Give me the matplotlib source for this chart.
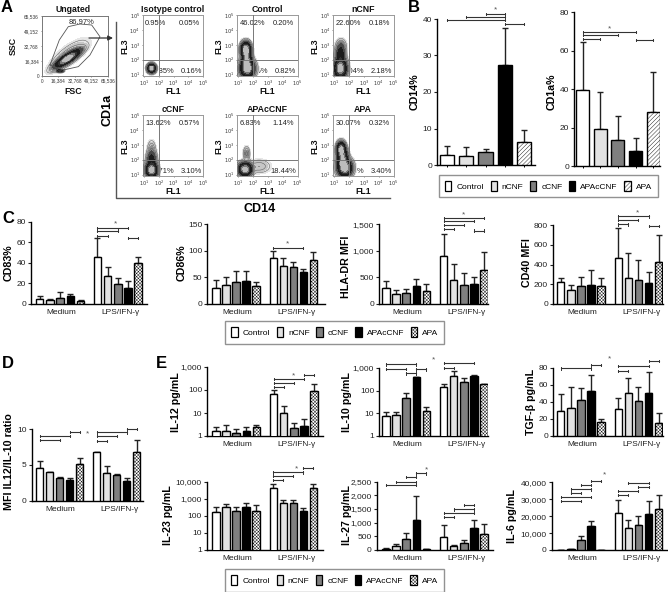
import matplotlib as mpl
mpl.use('Agg')
import matplotlib.pyplot as plt
import numpy as np
from matplotlib.patches import Patch
from matplotlib.ticker import FuncFormatter

W, H = 668, 592
plt.rcParams['font.family'] = ['Liberation Sans', 'DejaVu Sans']
plt.rcParams['hatch.linewidth'] = 0.3

groups = ["Control", "nCNF", "cCNF", "APAcCNF", "APA"]
conditions = ["Medium", "LPS/IFN-γ"]

# panel B, means and top of the error bar
cd14_mean = [2.7, 2.5, 3.5, 27.5, 6.4]
cd14_top = [5.2, 4.9, 4.5, 37.4, 9.6]
cd1a_mean = [39.5, 19, 13.5, 7.8, 28]
cd1a_top = [64.5, 38.3, 26, 14.5, 49]

# panels C, D, E: five Medium bars then five LPS/IFN-y bars
cd83_mean = [4.5, 3.5, 6, 7.5, 2.8, 46, 27, 19.5, 16, 40]
cd83_top = [7.5, 4.5, 12, 10, 3.5, 64, 36, 25.5, 22, 46]
cd86_mean = [30, 35, 42, 44, 33, 87, 71, 70, 60, 82]
cd86_top = [45, 50, 62, 63, 41, 99, 87, 79, 65, 97]
hla_mean = [310, 190, 205, 330, 240, 900, 450, 365, 370, 640]
hla_top = [430, 260, 290, 470, 380, 1320, 760, 590, 500, 970]
cd40_mean = [220, 140, 180, 190, 185, 470, 260, 245, 215, 425]
cd40_top = [265, 195, 270, 345, 260, 765, 520, 445, 325, 700]
ratio_mean = [4.6, 3.95, 3.2, 2.85, 5.1, 6.8, 3.9, 3.6, 2.8, 6.8]
ratio_top = [5.6, 4.0, 3.3, 3.2, 6.0, 6.85, 4.8, 3.7, 3.2, 8.4]
il12_mean = [1.6, 1.7, 1.4, 1.7, 2.4, 70, 10, 2.2, 2.7, 95]
il12_top = [2.4, 3, 2.1, 2.4, 3, 105, 20, 3.6, 5.5, 175]
il10_mean = [7.5, 8, 45, 380, 13, 145, 430, 250, 450, 190]
il10_top = [11.5, 11.5, 75, 420, 18, 190, 700, 360, 480, 205]
tgf_mean = [29, 33, 42, 53, 16.5, 31, 51, 41, 50, 15]
tgf_top = [49, 58, 56, 72, 19.5, 44, 68, 58, 75, 27]
il23_mean = [160, 320, 180, 320, 200, 4200, 550, 570, 180, 4500]
il23_top = [340, 480, 320, 550, 450, 7500, 800, 850, 300, 7500]
il27_mean = [50, 150, 420, 1080, 20, 490, 140, 270, 810, 600]
il27_top = [90, 230, 620, 1980, 30, 900, 170, 370, 1110, 960]
il6_mean = [100, 400, 6000, 14000, 100, 22000, 13000, 14500, 21000, 24000]
il6_top = [150, 500, 8000, 17000, 150, 29500, 17500, 20000, 29000, 32500]

# panel A quadrant percentages: UL, UR, LL, LR
flow_names = ["Isotype control", "Control", "nCNF", "cCNF", "APAcCNF", "APA"]
flow_pcts = [["0.95%", "0.05%", "98.85%", "0.16%"],
             ["46.02%", "0.20%", "52.96%", "0.82%"],
             ["22.60%", "0.18%", "75.04%", "2.18%"],
             ["13.62%", "0.57%", "82.71%", "3.10%"],
             ["6.83%", "1.14%", "73.59%", "18.44%"],
             ["30.07%", "0.32%", "66.21%", "3.40%"]]
# cell populations, log10 units: x, y, sd x, sd y, height
flow_blobs = [[(1.5, 1.42, .14, .15, 1)],
              [(1.5, 2.7, .17, .25, 1), (1.6, 1.4, .25, .3, 1), (1.55, 2.05, .17, .35, .8)],
              [(1.4, 1.4, .22, .33, 1), (1.4, 2.3, .17, .35, .35), (1.45, 2.9, .18, .26, .08)],
              [(1.5, 1.3, .2, .25, 1), (1.5, 2.0, .17, .33, .3), (1.5, 2.8, .15, .28, .05)],
              [(1.45, 1.35, .23, .23, 1), (2.4, 1.55, .42, .25, .05), (1.55, 2.4, .12, .25, .08)],
              [(1.45, 2.7, .15, .25, .9), (1.7, 1.45, .25, .3, 1), (1.55, 2.05, .18, .35, .8)]]

ungated_fsc = [8200, 17400, 26300, 37900, 49400, 57600, 47700, 36200, 21400, 8200]
ungated_ssc = [12000, 39300, 53900, 56800, 55700, 42900, 22900, 10200, 6550, 12000]
# x, y, sd x, sd y, correlation, height
ungated_blobs = [(25500, 19000, 6500, 5000, .85, 1), (18200, 5800, 1700, 900, 0, .5),
                 (27000, 23000, 10000, 9000, .75, .06)]

# bar index from, bar index to, pixel row
cd14_br = [(0, 3, 20), (1, 3, 16.7), (2, 3, 14), (3, 4, 24)]
cd1a_br = [(0, 1, 38.7), (0, 2, 34.7), (0, 3, 31.7), (3, 4, 39.7)]
cd83_br = [(5, 6, 235.7), (5, 7, 230.7), (5, 8, 227.7), (8, 9, 238)]
cd86_br = [(5, 8, 247.7)]
hla_br = [(5, 6, 229), (5, 7, 225), (5, 8, 221), (5, 9, 218.3), (8, 9, 230.7)]
cd40_br = [(5, 6, 224.3), (5, 7, 220), (5, 8, 216.3), (8, 9, 226)]
ratio_br = [(0, 2, 440), (0, 3, 435.7), (3, 4, 431.7), (5, 6, 441), (5, 7, 436), (5, 8, 432.3), (8, 9, 429)]
il12_br = [(5, 6, 387), (5, 7, 383), (5, 8, 379), (8, 9, 375)]
il10_br = [(0, 2, 369), (0, 3, 364.3), (2, 3, 373.3), (3, 4, 369.3), (5, 6, 368), (5, 8, 363)]
tgf_br = [(0, 3, 368.3), (3, 4, 364.7), (5, 6, 370.7), (5, 8, 366), (8, 9, 360.7)]
il23_br = [(5, 6, 480), (5, 7, 475.7), (5, 8, 472.3), (8, 9, 467.7)]
il27_br = [(0, 3, 485), (1, 3, 481.7), (2, 3, 477), (3, 4, 473.3), (5, 6, 516.7), (5, 8, 512.7), (6, 8, 509.3), (7, 8, 505)]
il6_br = [(0, 2, 500.7), (0, 3, 496.7), (1, 2, 492.7), (1, 3, 489.3), (2, 3, 485), (3, 4, 481),
          (5, 6, 494.7), (5, 7, 490.7), (7, 8, 487), (6, 8, 483)]

bar_colors = ['white', '#e2e2e2', '#7f7f7f', 'black', 'white']
dense_hatch = 'x' * 10
slant_hatch = '/' * 8

fig = plt.figure(figsize=(W / 100, H / 100), dpi=100)


def fx(x):
    return x / W


def fy(y):
    return 1 - y / H


def put_axes(x0, x1, top, bottom):
    return fig.add_axes([fx(x0), fy(bottom), (x1 - x0) / W, (bottom - top) / H])


def bar_chart(x0, x1, top, bottom, first, step, shift, means, tops, ticks, ylabel, ylab_x, ylab_y,
              brackets, star, log=False, hatch=dense_hatch, bar_ticks=False):
    ax = put_axes(x0, x1, top, bottom)
    n = len(means)
    pos = np.arange(n, dtype=float)
    if n == 10:
        pos[5:] += shift
    colors = bar_colors * (n // 5)
    if log:
        ax.set_yscale('log')
    means = np.array(means, dtype=float)
    tops = np.array(tops, dtype=float)
    bars = ax.bar(pos, means, width=0.74, color=colors, edgecolor='black', linewidth=1.0, zorder=3)
    for i in range(4, n, 5):
        bars[i].set_hatch(hatch)
    ax.errorbar(pos, means, yerr=[np.zeros(n), tops - means], fmt='none', ecolor='#222222',
                elinewidth=1.0, capsize=2.2, capthick=1.0, zorder=2)
    ax.set_xlim(-(first - x0) / step, (x1 - first) / step)
    ax.set_ylim(ticks[0], ticks[-1])
    ax.set_yticks(ticks)
    ax.minorticks_off()
    ax.yaxis.set_major_formatter(FuncFormatter(lambda v, p: f'{v:,.0f}'))
    ax.tick_params(axis='y', labelsize=6, length=2, width=0.8, pad=1.5, colors='#222222')
    if bar_ticks:
        ax.set_xticks(pos)
        ax.set_xticklabels([])
        ax.tick_params(axis='x', length=1.5, width=0.7)
    else:
        ax.set_xticks([])
    for s in ['top', 'right']:
        ax.spines[s].set_visible(False)
    for s in ['left', 'bottom']:
        ax.spines[s].set_linewidth(1.0)
    if n == 10:
        for k, cond in enumerate(conditions):
            center = first + step * (2 + k * (5 + shift))
            fig.text(fx(center + 1 + 2 * k), fy(bottom + 9), cond, fontsize=6, ha='center', va='center', color='#222222')
    fig.text(fx(ylab_x), fy(ylab_y), ylabel, fontsize=7.7, fontweight='bold', rotation=90, ha='center', va='center')
    for a, b, row in brackets:
        xa, xb = first + step * pos[a], first + step * pos[b]
        fig.add_artist(plt.Line2D([fx(xa), fx(xb)], [fy(row), fy(row)], color='#333333', lw=0.8))
        for xe in (xa, xb):
            fig.add_artist(plt.Line2D([fx(xe), fx(xe)], [fy(row - 1.2), fy(row + 1.2)], color='#333333', lw=0.7))
    fig.text(fx(star[0]), fy(star[1] + 1), '*', fontsize=6, ha='center', va='center', color='#555555')
    return ax


def legend_box(x0, x1, top, bottom, hatch):
    handles = []
    for name, col in zip(groups, bar_colors):
        handles.append(Patch(facecolor=col, edgecolor='black', linewidth=0.9,
                             hatch=hatch if name == 'APA' else None, label=name))
    leg = fig.legend(handles=handles, loc='center', bbox_to_anchor=(fx((x0 + x1) / 2), fy((top + bottom) / 2)),
                     ncol=5, fontsize=6, frameon=True, fancybox=False, edgecolor='#777777',
                     handlelength=0.75, handleheight=1.5, handletextpad=0.6, columnspacing=0.8,
                     borderpad=0.75, borderaxespad=0)
    leg.get_frame().set_linewidth(1.0)


def draw_density(ax, xs, ys, dens):
    ax.contourf(xs, ys, dens, levels=[.006, .02, .05, .1, .2, .4, .6, .8, 3],
                colors=['#e6e6e6', '#c6c6c6', '#8c8c8c', '#484848', '#1c1c1c', '#333333', '#7a7a7a', '#bcbcbc'],
                zorder=2)
    ax.contour(xs, ys, dens, levels=[.012, .03, .07], colors='#555555', linewidths=0.35, zorder=3)


def flow_panel(x0, top, name, pcts, blobs):
    ax = put_axes(x0, x0 + 60.5, top, top + 61)
    xs = np.linspace(.9, 5, 240)
    ys = np.linspace(.9, 5, 240)
    X, Y = np.meshgrid(xs, ys)
    dens = np.zeros_like(X)
    for cx, cy, sx, sy, amp in blobs:
        dens += amp * np.exp(-.5 * (((X - cx) / sx) ** 2 + ((Y - cy) / sy) ** 2))
    for s, (tx, ty, ha) in zip(pcts, [(.04, .86, 'left'), (.94, .86, 'right'), (.1, .07, 'left'), (.98, .07, 'right')]):
        ax.text(tx, ty, s, transform=ax.transAxes, fontsize=5.4, ha=ha, va='center', color='#222222', zorder=1)
    draw_density(ax, xs, ys, dens)
    ax.axvline(2.0, color='#777777', lw=0.7, zorder=4)
    ax.axhline(1.97, color='#777777', lw=0.7, zorder=4)
    ax.set_xlim(.9, 5)
    ax.set_ylim(.9, 5)
    ticks = [1, 2, 3, 4, 5]
    labels = [f'$10^{t}$' for t in ticks]
    ax.set_xticks(ticks, labels)
    ax.set_yticks(ticks, labels)
    ax.tick_params(labelsize=3.6, length=1, width=0.4, pad=1, colors='#333333')
    for s in ax.spines.values():
        s.set_color('#999999')
        s.set_linewidth(0.7)
    fig.text(fx(x0 + 30), fy(top - 6), name, fontsize=6.3, fontweight='bold', ha='center', va='center', color='#111111')
    fig.text(fx(x0 + 30), fy(top + 77), 'FL1', fontsize=6.3, fontweight='bold', ha='center', va='center', color='#111111')
    fig.text(fx(x0 - 18), fy(top + 31), 'FL3', fontsize=6.3, fontweight='bold', rotation=90, ha='center', va='center', color='#111111')


# panel A
ax = put_axes(41.7, 108, 16, 76)
gx = np.linspace(0, 65536, 300)
gy = np.linspace(0, 65536, 300)
GX, GY = np.meshgrid(gx, gy)
gd = np.zeros_like(GX)
for cx, cy, sx, sy, rho, amp in ungated_blobs:
    u, v = (GX - cx) / sx, (GY - cy) / sy
    gd += amp * np.exp(-.5 * (u ** 2 - 2 * rho * u * v + v ** 2) / (1 - rho ** 2))
draw_density(ax, gx, gy, gd)
ax.plot(ungated_fsc, ungated_ssc, color='#555555', lw=0.6, zorder=4)
ax.text(.6, .895, '86.97%', transform=ax.transAxes, fontsize=5.4, ha='center', va='center', color='#222222')
ax.set_xlim(0, 65536)
ax.set_ylim(0, 65536)
flow_ticks = [0, 16384, 32768, 49152, 65536]
ax.set_xticks(flow_ticks, [f'{t:,}' for t in flow_ticks])
ax.set_yticks(flow_ticks, [f'{t:,}' for t in flow_ticks])
ax.tick_params(labelsize=3.4, length=1, width=0.4, pad=1, colors='#333333')
for s in ax.spines.values():
    s.set_color('#777777')
    s.set_linewidth(0.7)
fig.text(fx(73), fy(9), 'Ungated', fontsize=6.3, fontweight='bold', ha='center', va='center', color='#111111')
fig.text(fx(73), fy(92), 'FSC', fontsize=6.3, fontweight='bold', ha='center', va='center', color='#111111')
fig.text(fx(13), fy(46), 'SSC', fontsize=6.3, fontweight='bold', rotation=90, ha='center', va='center', color='#111111')

fig.add_artist(mpl.patches.FancyArrowPatch((fx(89), fy(38)), (fx(113), fy(38)), transform=fig.transFigure,
                                           arrowstyle='-|>', mutation_scale=7, color='#333333', lw=0.9, shrinkA=0, shrinkB=0))

cols = [142.7, 237, 333]
rows = [15, 115]
for i in range(6):
    flow_panel(cols[i % 3], rows[i // 3], flow_names[i], flow_pcts[i], flow_blobs[i])

fig.add_artist(plt.Line2D([fx(115.7), fx(115.7), fx(390)], [fy(22), fy(198), fy(198)], color='#555555', lw=1.0))
fig.text(fx(107), fy(110), 'CD1a', fontsize=9, fontweight='bold', rotation=90, ha='center', va='center')
fig.text(fx(260), fy(208.5), 'CD14', fontsize=9, fontweight='bold', ha='center', va='center')

# panel B
bar_chart(437, 535, 19, 165, 446.7, 19.4, 0, cd14_mean, cd14_top, [0, 10, 20, 30, 40], 'CD14%', 415, 92,
          cd14_br, (495.7, 9), hatch=slant_hatch, bar_ticks=True)
bar_chart(574, 660, 12, 166, 582.7, 17.6, 0, cd1a_mean, cd1a_top, [0, 20, 40, 60, 80], 'CD1a%', 552, 92,
          cd1a_br, (609, 27.7), hatch=slant_hatch, bar_ticks=True)
legend_box(440, 657, 175, 197, slant_hatch)

# panel C
bar_chart(31, 147, 221.7, 304, 39.7, 10.2, .65, cd83_mean, cd83_top, [0, 20, 40, 60, 80], 'CD83%', 9, 263,
          cd83_br, (115, 223))
bar_chart(207, 325, 224.3, 304, 216, 10.0, .73, cd86_mean, cd86_top, [0, 50, 100, 150], 'CD86%', 182, 263,
          cd86_br, (287, 243))
bar_chart(379, 488, 224.3, 304, 386, 10.1, .7, hla_mean, hla_top, [0, 500, 1000, 1500], 'HLA-DR MFI', 346, 267,
          hla_br, (463, 214))
bar_chart(553, 663, 225, 304, 560.7, 10.1, .7, cd40_mean, cd40_top, [0, 200, 400, 600, 800], 'CD40 MFI', 527, 263,
          cd40_br, (638, 211.7))
legend_box(225.7, 444, 321.7, 343, dense_hatch)

# panel D
bar_chart(31.7, 143, 429, 500.7, 39.7, 10, .7, ratio_mean, ratio_top, [0, 5, 10], 'MFI IL12/IL-10 ratio', 9, 462,
          ratio_br, (87.7, 432.7))

# panel E
bar_chart(207, 322.7, 367, 436, 216, 10.1, .7, il12_mean, il12_top, [1, 10, 100, 1000], 'IL-12 pg/mL', 176, 402,
          il12_br, (293.3, 375), log=True)
bar_chart(379, 488, 368, 435.7, 386, 10.1, .7, il10_mean, il10_top, [1, 10, 100, 1000], 'IL-10 pg/mL', 347, 402,
          il10_br, (434, 359), log=True)
bar_chart(553, 663, 368, 435.7, 560.7, 10.1, .7, tgf_mean, tgf_top, [0, 20, 40, 60, 80], 'TGF-β pg/mL', 531, 402,
          tgf_br, (609, 357.7))
bar_chart(206.7, 323, 481.7, 550, 216, 10.0, .73, il23_mean, il23_top, [1, 10, 100, 1000, 10000], 'IL-23 pg/mL', 168, 515,
          il23_br, (296.7, 468.3), log=True)
bar_chart(376.7, 493, 481.7, 550, 386, 10.1, .7, il27_mean, il27_top, [0, 500, 1000, 1500, 2000, 2500], 'IL-27 pg/mL', 347, 515,
          il27_br, (426.7, 469))
bar_chart(551.7, 668, 482.3, 550, 560.7, 10.1, .7, il6_mean, il6_top, [0, 10000, 20000, 30000, 40000], 'IL-6 pg/mL', 512, 516,
          il6_br, (604.3, 474))
legend_box(226, 443, 569, 591.7, dense_hatch)

for letter, lx, ly in [('A', 1, 12), ('B', 408, 12), ('C', 2, 223), ('D', 2, 368), ('E', 156, 368)]:
    fig.text(fx(lx), fy(ly), letter, fontsize=12, fontweight='bold', ha='left', va='baseline')

fig.savefig('out.png', dpi=100)
